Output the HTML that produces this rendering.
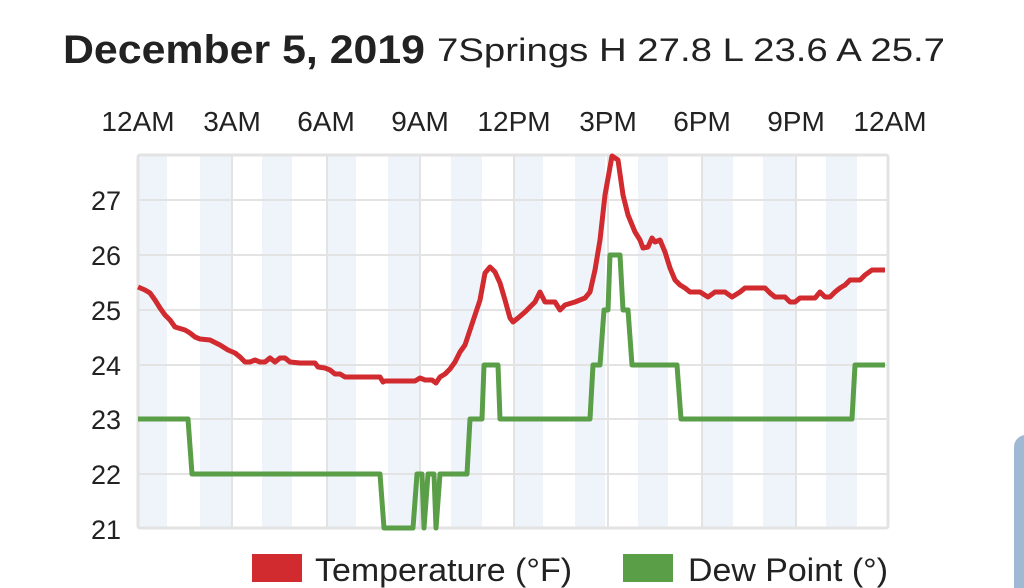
<!DOCTYPE html>
<html><head><meta charset="utf-8"><style>
html,body{margin:0;padding:0;background:#fff;width:1024px;height:588px;overflow:hidden;font-family:"Liberation Sans",sans-serif;}
</style></head><body>
<svg width="1024" height="588" xmlns="http://www.w3.org/2000/svg" style="position:absolute;left:0;top:0">
<text x="63" y="63" font-size="40" font-weight="bold" fill="#222" textLength="362" lengthAdjust="spacingAndGlyphs">December 5, 2019</text>
<text x="437" y="61" font-size="32" fill="#222" textLength="508" lengthAdjust="spacingAndGlyphs">7Springs H 27.8 L 23.6 A 25.7</text>
<g font-size="28" fill="#222" text-anchor="middle">
<text x="138" y="131">12AM</text><text x="232" y="131">3AM</text><text x="326" y="131">6AM</text><text x="420" y="131">9AM</text><text x="514" y="131">12PM</text><text x="608" y="131">3PM</text><text x="702" y="131">6PM</text><text x="796" y="131">9PM</text><text x="890" y="131">12AM</text>
</g>
<g fill="#eef4fa">
<rect x="139" y="155" width="28" height="373"/><rect x="200" y="155" width="32" height="373"/><rect x="262" y="155" width="30" height="373"/><rect x="326" y="155" width="30" height="373"/><rect x="388" y="155" width="32" height="373"/><rect x="451" y="155" width="31" height="373"/><rect x="515" y="155" width="28" height="373"/><rect x="575" y="155" width="30" height="373"/><rect x="638" y="155" width="30" height="373"/><rect x="703" y="155" width="30" height="373"/><rect x="763" y="155" width="32" height="373"/><rect x="826" y="155" width="31" height="373"/>
</g>
<g stroke="#e3e3e3" stroke-width="2" fill="none">
<line x1="138" y1="200" x2="888" y2="200"/><line x1="138" y1="255" x2="888" y2="255"/><line x1="138" y1="310" x2="888" y2="310"/><line x1="138" y1="365" x2="888" y2="365"/><line x1="138" y1="419" x2="888" y2="419"/><line x1="138" y1="474" x2="888" y2="474"/>
<line x1="232" y1="155" x2="232" y2="528"/><line x1="327" y1="155" x2="327" y2="528"/><line x1="420" y1="155" x2="420" y2="528"/><line x1="514" y1="155" x2="514" y2="528"/><line x1="608" y1="155" x2="608" y2="528"/><line x1="702" y1="155" x2="702" y2="528"/><line x1="796" y1="155" x2="796" y2="528"/>
<rect x="138" y="155" width="750" height="373" rx="2" stroke-width="3"/>
</g>
<g font-size="27" fill="#222" text-anchor="end">
<text x="121" y="210">27</text><text x="121" y="265">26</text><text x="121" y="320">25</text><text x="121" y="375">24</text><text x="121" y="429">23</text><text x="121" y="484">22</text><text x="121" y="539">21</text>
</g>
<polyline fill="none" stroke="#5a9e48" stroke-width="5" stroke-linejoin="round" points="138,419 188,419 192,474 380,474 384,528 413,528 417,474 422,474 424,528 428,474 434,474 436,528 440,474 467,474 470,419 482,419 484,365 498,365 500,419 590,419 593,365 600,365 604,310 608,310 610,255 620,255 623,310 628,310 632,365 677,365 681,419 852,419 855,365 885,365"/>
<polyline fill="none" stroke="#d12a2f" stroke-width="5" stroke-linejoin="round" points="138,287 145,290 150,293 155,300 160,308 165,315 170,320 175,327 185,330 190,333 195,337 200,339 210,340 220,345 228,350 235,353 240,357 245,362 250,362 255,360 260,362 265,362 270,358 275,362 280,358 285,358 290,362 300,363 315,363 318,367 325,368 330,370 335,374 340,374 345,377 380,377 383,382 385,381 415,381 420,378 425,380 432,380 436,383 440,377 445,374 450,369 455,362 460,352 465,345 470,330 475,315 480,300 485,273 490,267 495,272 500,283 505,300 510,318 513,322 518,318 525,312 530,307 535,302 540,292 545,302 555,302 560,310 565,305 575,302 585,298 590,292 595,270 600,240 605,195 612,156 618,160 623,195 628,215 635,232 640,240 643,248 648,247 652,238 655,242 660,240 665,252 670,268 675,280 680,285 685,288 690,292 700,292 708,297 715,292 725,292 732,297 740,292 745,288 765,288 770,293 775,297 785,297 790,302 795,302 800,298 815,298 820,292 825,297 830,297 835,292 840,288 845,285 850,280 860,280 865,275 872,270 885,270"/>
<rect x="252" y="554" width="50" height="28" fill="#d12a2f"/>
<text x="315" y="581" font-size="32" fill="#222" textLength="257" lengthAdjust="spacingAndGlyphs">Temperature (°F)</text>
<rect x="623" y="554" width="50" height="28" fill="#5a9e48"/>
<text x="688" y="581" font-size="32" fill="#222" textLength="200" lengthAdjust="spacingAndGlyphs">Dew Point (°)</text>
<rect x="1014" y="435" width="40" height="170" rx="12" fill="#9fb8d4"/>
</svg>
</body></html>
